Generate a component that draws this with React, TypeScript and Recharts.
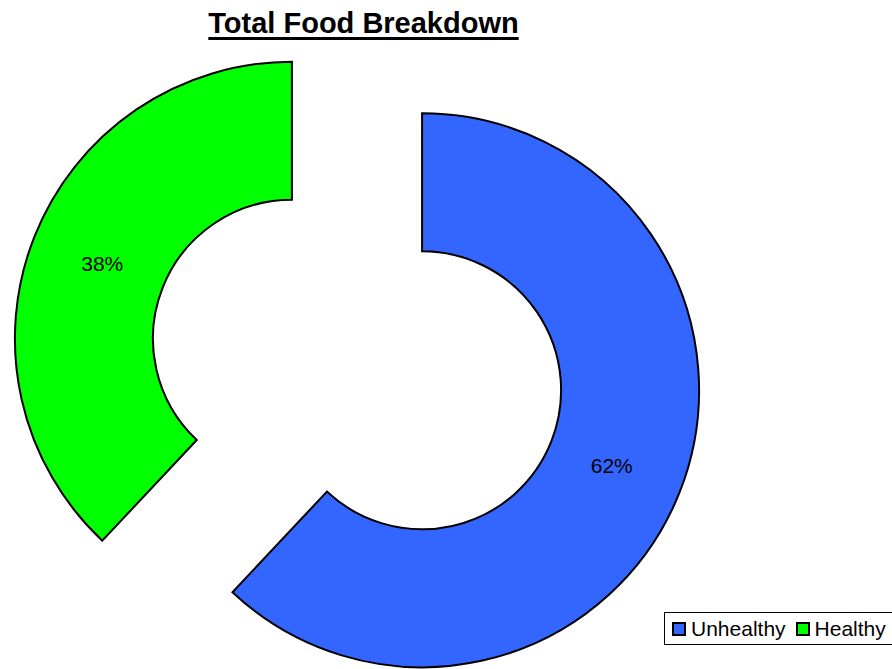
import { PieChart, Pie, Cell } from "recharts";

// ─── Data ────────────────────────────────────────────────────────────────────
const categories = ["Unhealthy", "Healthy"];
const shares = [62, 38];
const colors = ["#3366FF", "#00FF00"];

const FONT = "'Liberation Sans', Arial, sans-serif";
const W = 892;
const H = 669;
const CENTER = { x: 357, y: 364.5 };
const EXPLODE = 70;
const INNER = 139;
const OUTER = 277;

const data = categories.map((name, i) => ({ name, value: shares[i] }));

// offset each slice outward along its own mid-angle (clockwise from 12 o'clock)
function sliceCenter(index: number) {
  const total = shares.reduce((a, b) => a + b, 0);
  const before = shares.slice(0, index).reduce((a, b) => a + b, 0);
  const mid = ((before + shares[index] / 2) / total) * Math.PI * 2;
  return {
    x: CENTER.x + Math.sin(mid) * EXPLODE,
    y: CENTER.y - Math.cos(mid) * EXPLODE,
  };
}

function makeLabel(visible: number) {
  return (props: any) => {
    const { cx, cy, midAngle, innerRadius, outerRadius, index, value } = props;
    if (index !== visible) return null;
    const RAD = Math.PI / 180;
    const r = (innerRadius + outerRadius) / 2 - 4;
    const x = cx + r * Math.cos(-midAngle * RAD);
    const y = cy + r * Math.sin(-midAngle * RAD);
    return (
      <text
        x={x}
        y={y}
        textAnchor="middle"
        dominantBaseline="central"
        fill="#000"
        fontSize={21}
        fontFamily={FONT}
      >
        {`${value}%`}
      </text>
    );
  };
}

export default function App() {
  return (
    <div style={{ position: "absolute", left: 0, top: 0, width: W, height: H, background: "#fff", overflow: "hidden" }}>
      <div
        style={{
          position: "absolute",
          left: 0,
          width: 727,
          top: 6,
          textAlign: "center",
          fontFamily: FONT,
          fontWeight: "bold",
          fontSize: 29,
          lineHeight: "34px",
          textDecoration: "underline",
          textDecorationThickness: 3,
          textUnderlineOffset: 4,
          color: "#000",
        }}
      >
        Total Food Breakdown
      </div>

      <PieChart width={W} height={H} margin={{ top: 0, right: 0, bottom: 0, left: 0 }}>
        {categories.map((_, visible) => {
          const c = sliceCenter(visible);
          return (
            <Pie
              key={visible}
              data={data}
              dataKey="value"
              nameKey="name"
              cx={c.x}
              cy={c.y}
              innerRadius={INNER}
              outerRadius={OUTER}
              startAngle={90}
              endAngle={-270}
              isAnimationActive={false}
              labelLine={false}
              label={makeLabel(visible)}
            >
              {data.map((_, i) => (
                <Cell
                  key={i}
                  fill={i === visible ? colors[i] : "none"}
                  stroke={i === visible ? "#000" : "none"}
                  strokeWidth={2}
                />
              ))}
            </Pie>
          );
        })}
      </PieChart>

      {/* legend */}
      <div
        style={{
          position: "absolute",
          left: 664,
          top: 612,
          width: 240,
          height: 33,
          border: "1px solid #000",
          boxSizing: "border-box",
          display: "flex",
          alignItems: "center",
          paddingLeft: 7,
          fontFamily: FONT,
          fontSize: 21,
          color: "#000",
        }}
      >
        {categories.map((name, i) => (
          <div key={name} style={{ display: "flex", alignItems: "center", marginRight: 10 }}>
            <span
              style={{
                width: 10,
                height: 10,
                background: colors[i],
                border: "2px solid #000",
                marginRight: 5,
                display: "inline-block",
              }}
            />
            <span>{name}</span>
          </div>
        ))}
      </div>
    </div>
  );
}
